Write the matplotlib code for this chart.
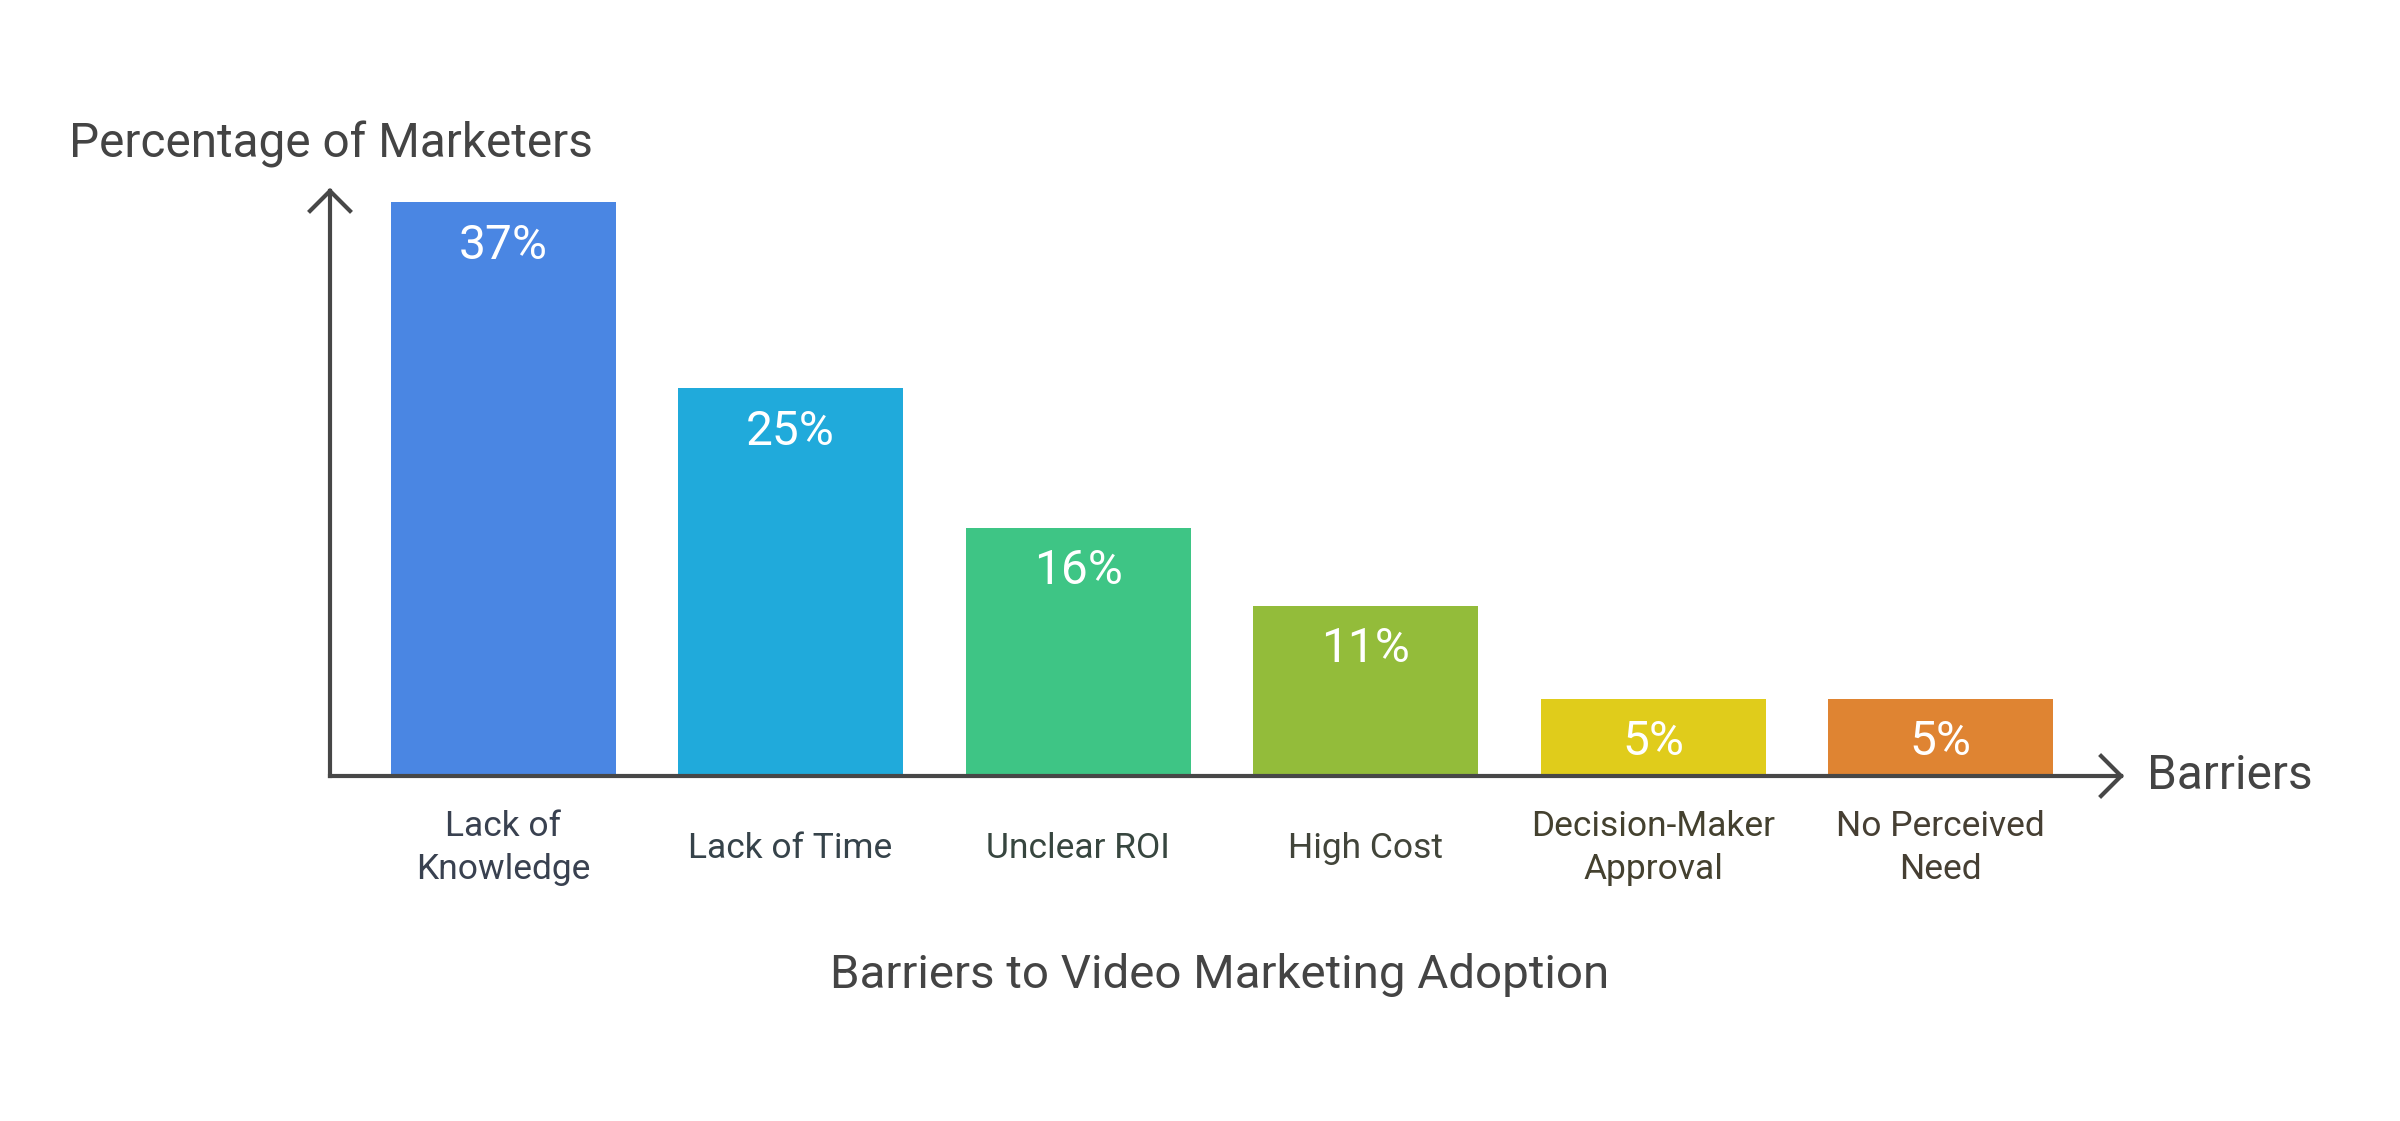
import matplotlib.pyplot as plt

# Data
categories = ['Lack of\nKnowledge', 'Lack of Time', 'Unclear ROI', 'High Cost',
              'Decision-Maker\nApproval', 'No Perceived\nNeed']
values = [37, 25, 16, 11, 5, 5]
bar_colors = ['#4A86E3', '#20AADB', '#3EC585', '#93BC3A', '#E0CC1B', '#DF8432']
label_colors = ['#394150', '#36434A', '#37463F', '#42453A', '#44412F', '#463F33']

plt.rcParams['font.family'] = ['Roboto', 'DejaVu Sans']
axis_color = '#474747'
text_color = '#444444'

W, H = 2400, 1121
fig = plt.figure(figsize=(W / 100, H / 100), dpi=100)

# axes box in pixel terms: left 330, right 2124 (arrow tip), baseline 776, top 188
x0, x1, yb, yt = 330, 2124, 776, 188
ax = fig.add_axes([x0 / W, (H - yb) / H, (x1 - x0) / W, (yb - yt) / H])

spacing = 287.5
first_center = 503
xs = list(range(len(values)))
ax.bar(xs, values, width=225 / spacing, color=bar_colors, zorder=2)

ax.set_xlim((x0 - first_center) / spacing, (x1 - first_center) / spacing)
ax.set_ylim(0, (yb - yt) / 15.5)

for x, v in zip(xs, values):
    ax.annotate(f'{v}%', (x, v), xytext=(0, -31), textcoords='offset points',
                ha='center', va='center', fontsize=34.5, color='white', zorder=3)

for x, lab, c in zip(xs, categories, label_colors):
    ax.annotate(lab, (x, 0), xytext=(0, -52), textcoords='offset points',
                ha='center', va='center', fontsize=25.5, color=c,
                linespacing=1.4, annotation_clip=False)

for s in ax.spines.values():
    s.set_visible(False)
ax.set_xticks([])
ax.set_yticks([])

arrow = dict(arrowstyle='->,head_length=0.45,head_width=0.45', lw=3,
             color=axis_color, mutation_scale=32, shrinkA=0, shrinkB=0,
             capstyle='projecting', joinstyle='miter')
ax.annotate('', xy=(1, 0), xytext=(0, 0), xycoords='axes fraction',
            arrowprops=arrow, annotation_clip=False)
ax.annotate('', xy=(0, 1), xytext=(0, 0), xycoords='axes fraction',
            arrowprops=arrow, annotation_clip=False)

fig.text(69 / W, 1 - 144 / H, 'Percentage of Marketers', fontsize=34.4,
         color=text_color, ha='left', va='center')
fig.text(2147 / W, 1 - 776 / H, 'Barriers', fontsize=34.4,
         color=text_color, ha='left', va='center')
fig.text(1220 / W, 1 - 975 / H, 'Barriers to Video Marketing Adoption',
         fontsize=34.2, color=text_color, ha='center', va='center')

fig.savefig('out.png', dpi=100, facecolor='white')
